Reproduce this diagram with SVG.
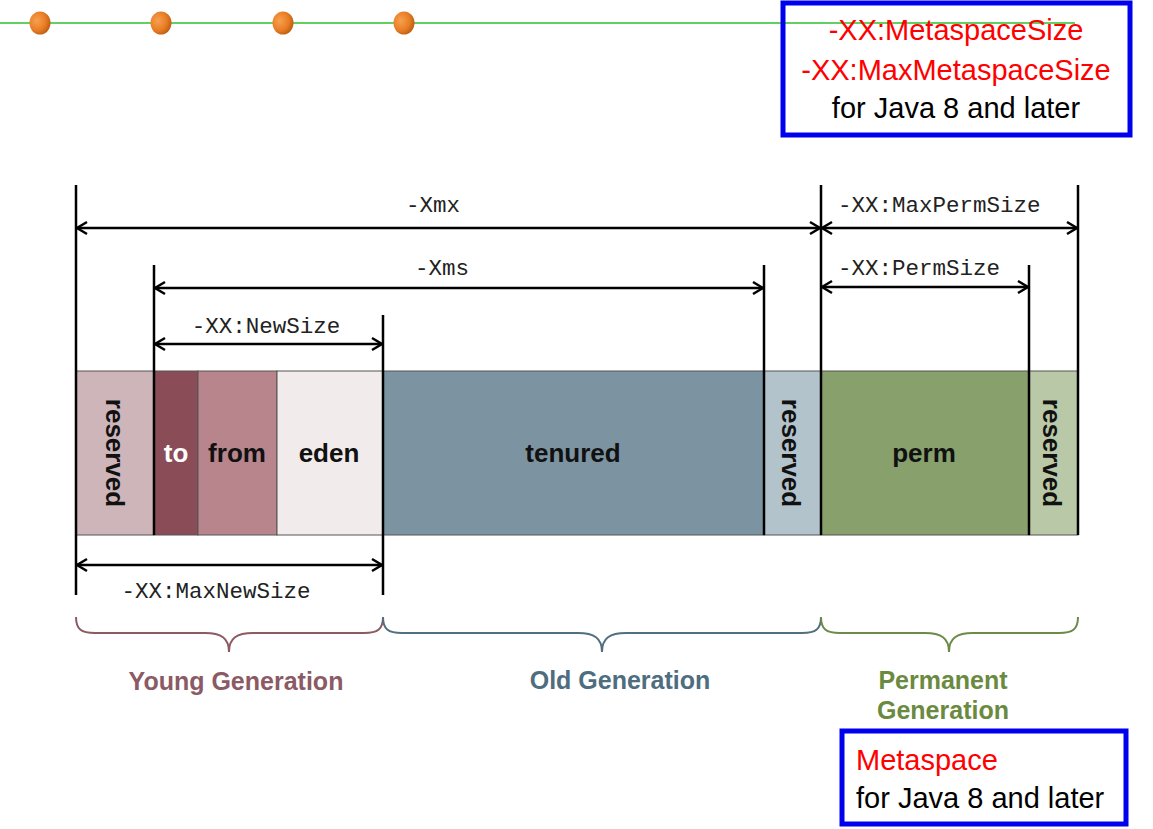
<svg xmlns="http://www.w3.org/2000/svg" width="1153" height="829" viewBox="0 0 1153 829">
<style>
.dim{stroke:#000;stroke-width:2.5;fill:none}
.arr{stroke:#000;stroke-width:2.5;fill:none;marker-start:url(#ah);marker-end:url(#ah)}
.seg{stroke:#555;stroke-width:1}
.mono{font-family:"Liberation Mono","Courier New",monospace;font-size:22.5px;fill:#222}
.lbl{font-family:"Liberation Sans",Arial,sans-serif;font-weight:bold;font-size:26px;fill:#111;text-anchor:middle}
.gen{font-family:"Liberation Sans",Arial,sans-serif;font-weight:bold;font-size:25px;text-anchor:middle}
.note{font-family:"Liberation Sans","Open Sans",sans-serif;font-size:29px}
.red{fill:#ff0000}
.blk{fill:#000}
.box{fill:none;stroke:#0000ee;stroke-width:5}
</style>
<defs>
<marker id="ah" viewBox="-12 -8 14 16" markerWidth="14" markerHeight="16" refX="0" refY="0" markerUnits="userSpaceOnUse" orient="auto-start-reverse">
<path d="M-10,-6 L0,0 L-10,6" fill="none" stroke="#000" stroke-width="2.5"/>
</marker>
<radialGradient id="dot" cx="0.35" cy="0.4" r="0.7">
<stop offset="0" stop-color="#f7a050"/>
<stop offset="0.6" stop-color="#e97d25"/>
<stop offset="1" stop-color="#b85a10"/>
</radialGradient>
</defs>
<rect width="1153" height="829" fill="#fff"/>

<g id="header">
<line x1="0" y1="23" x2="1075" y2="23" stroke="#2ec02e" stroke-width="1.5"/>
<ellipse cx="40" cy="23" rx="10.5" ry="11.5" fill="url(#dot)"/>
<ellipse cx="161" cy="23" rx="10.5" ry="11.5" fill="url(#dot)"/>
<ellipse cx="283" cy="23" rx="10.5" ry="11.5" fill="url(#dot)"/>
<ellipse cx="404" cy="23" rx="10.5" ry="11.5" fill="url(#dot)"/>
</g>

<g id="note-top">
<rect class="box" x="783" y="3" width="347" height="132"/>
<text class="note red" x="956" y="40" text-anchor="middle">-XX:MetaspaceSize</text>
<text class="note red" x="956" y="80" text-anchor="middle">-XX:MaxMetaspaceSize</text>
<text class="note blk" x="956" y="118" text-anchor="middle">for Java 8 and later</text>
</g>

<g id="bar">
<g id="reserved-young"><rect class="seg" x="76" y="371" width="78" height="164" fill="#cdb5ba"/>
<text class="lbl" transform="translate(115,453) rotate(90)" dominant-baseline="central">reserved</text></g>
<g id="to"><rect class="seg" x="154" y="371" width="44" height="164" fill="#8a4d58"/>
<text class="lbl" x="176" y="462" style="fill:#fff">to</text></g>
<g id="from"><rect class="seg" x="198" y="371" width="79" height="164" fill="#b7858b"/>
<text class="lbl" x="237" y="462">from</text></g>
<g id="eden"><rect class="seg" x="277" y="371" width="106" height="164" fill="#f1ebeb"/>
<text class="lbl" x="329" y="462">eden</text></g>
<g id="tenured"><rect class="seg" x="383" y="371" width="381" height="164" fill="#7c94a1"/>
<text class="lbl" x="573" y="462">tenured</text></g>
<g id="reserved-old"><rect class="seg" x="764" y="371" width="57" height="164" fill="#b3c3cc"/>
<text class="lbl" transform="translate(791,453) rotate(90)" dominant-baseline="central">reserved</text></g>
<g id="perm"><rect class="seg" x="821" y="371" width="208" height="164" fill="#87a06c"/>
<text class="lbl" x="924" y="462">perm</text></g>
<g id="reserved-perm"><rect class="seg" x="1029" y="371" width="49" height="164" fill="#b9c8a7"/>
<text class="lbl" transform="translate(1052,453) rotate(90)" dominant-baseline="central">reserved</text></g>
</g>

<g id="connectors">
<line class="dim" x1="76" y1="185" x2="76" y2="595"/>
<line class="dim" x1="154" y1="265" x2="154" y2="535"/>
<line class="dim" x1="383" y1="315" x2="383" y2="595"/>
<line class="dim" x1="764" y1="265" x2="764" y2="535"/>
<line class="dim" x1="821" y1="185" x2="821" y2="535"/>
<line class="dim" x1="1029" y1="265" x2="1029" y2="535"/>
<line class="dim" x1="1078" y1="185" x2="1078" y2="535"/>
<line class="arr" x1="77" y1="228" x2="820" y2="228"/>
<line class="arr" x1="822" y1="228" x2="1077" y2="228"/>
<line class="arr" x1="155" y1="288" x2="763" y2="288"/>
<line class="arr" x1="822" y1="287" x2="1028" y2="287"/>
<line class="arr" x1="155" y1="344" x2="382" y2="344"/>
<line class="arr" x1="77" y1="565" x2="382" y2="565"/>
</g>

<g id="dim-labels">
<text class="mono" x="433" y="212" text-anchor="middle">-Xmx</text>
<text class="mono" x="838" y="212">-XX:MaxPermSize</text>
<text class="mono" x="442" y="275" text-anchor="middle">-Xms</text>
<text class="mono" x="838" y="275">-XX:PermSize</text>
<text class="mono" x="266" y="333" text-anchor="middle">-XX:NewSize</text>
<text class="mono" x="216" y="598" text-anchor="middle">-XX:MaxNewSize</text>
</g>

<g id="young-generation">
<path d="M76,617 C76,629 81,633 95,633 L205,633 C221,633 229,638 229,652 C229,638 237,633 253,633 L364,633 C378,633 383,629 383,617" fill="none" stroke="#8c5a63" stroke-width="2"/>
<text class="gen" x="236" y="690" fill="#8b5a64">Young Generation</text>
</g>
<g id="old-generation">
<path d="M383,617 C383,629 388,633 402,633 L578,633 C594,633 602,638 602,652 C602,638 610,633 626,633 L802,633 C816,633 821,629 821,617" fill="none" stroke="#50707f" stroke-width="2"/>
<text class="gen" x="620" y="689" fill="#4e6d7e">Old Generation</text>
</g>
<g id="permanent-generation">
<path d="M821,617 C821,629 826,633 840,633 L925,633 C941,633 949,638 949,652 C949,638 957,633 973,633 L1059,633 C1073,633 1078,629 1078,617" fill="none" stroke="#6c8a48" stroke-width="2"/>
<text class="gen" x="943" y="689" fill="#6a8a40">Permanent</text>
<text class="gen" x="943" y="719" fill="#6a8a40">Generation</text>
</g>

<g id="note-bottom">
<rect class="box" x="842" y="731" width="284" height="93"/>
<text class="note red" x="856" y="770">Metaspace</text>
<text class="note blk" x="856" y="808">for Java 8 and later</text>
</g>
</svg>
